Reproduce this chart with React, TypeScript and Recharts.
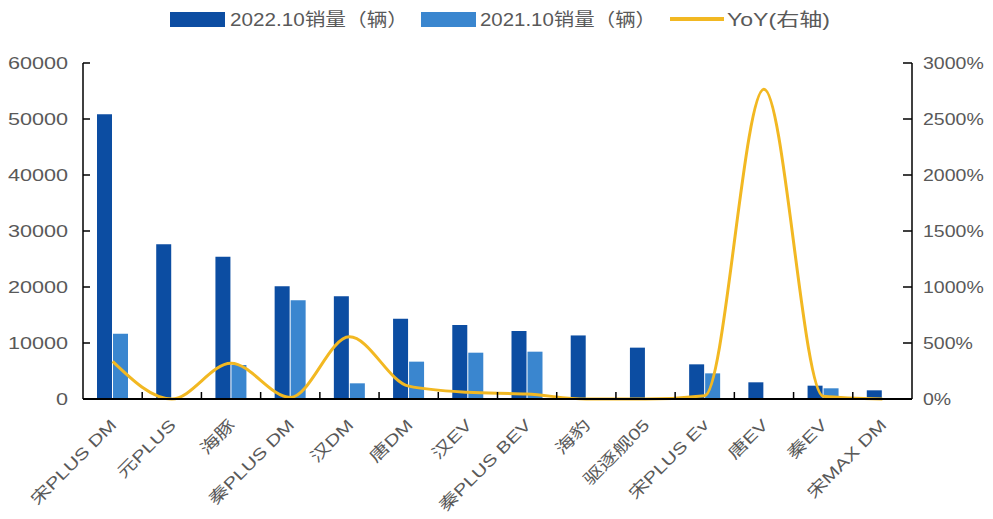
import React from "react";
import { ComposedChart, Bar, Line, XAxis, YAxis, Legend } from "recharts";

const categories = ["宋PLUS DM", "元PLUS", "海豚", "秦PLUS DM", "汉DM", "唐DM", "汉EV", "秦PLUS BEV", "海豹", "驱逐舰05", "宋PLUS Ev", "唐EV", "秦EV", "宋MAX DM"];
const sales2022 = [50840, 27620, 25410, 20120, 18330, 14340, 13210, 12140, 11350, 9170, 6190, 2980, 2380, 1550];
const sales2021 = [11660, 0, 6070, 17620, 2800, 6670, 8270, 8450, 0, 0, 4580, 108, 1910, 0];
const yoy = [336, 0, 319, 14, 555, 115, 60, 44, 0, 0, 30, 2765, 25, 0];
const leftTicks = [0, 10000, 20000, 30000, 40000, 50000, 60000];
const rightTicks = [0, 500, 1000, 1500, 2000, 2500, 3000];

const data = categories.map((name, i) => ({
  name,
  s2022: sales2022[i],
  s2021: sales2021[i],
  yoy: yoy[i],
}));

const W = 985;
const H = 511;
const LEFT_W = 75;
const RIGHT_W = 81;
const PLOT_W = W - LEFT_W - RIGHT_W;
const BAND = PLOT_W / categories.length;

const DARK = "#0C4DA2";
const LIGHT = "#3A86CF";
const GOLD = "#F2B822";
const TEXT = "#595959";
const LATIN = "'Liberation Sans', Arial, 'Noto Sans CJK SC', sans-serif";

const LeftTick = (props: any) => {
  const { x, y, payload } = props;
  return (
    <g>
      <line x1={x} x2={x + 7} y1={y} y2={y} stroke="#000" strokeWidth={1.5} />
      <g transform={`translate(${x - 15},${y + 6})`}>
        <text textAnchor="end" fontSize={16} fill={TEXT} fontFamily={LATIN} transform="scale(1.35,1)">
          {payload.value}
        </text>
      </g>
    </g>
  );
};

const RightTick = (props: any) => {
  const { x, y, payload } = props;
  return (
    <g>
      <line x1={x - 9} x2={x} y1={y} y2={y} stroke="#000" strokeWidth={1.5} />
      <g transform={`translate(${x + 11},${y + 6})`}>
        <text textAnchor="start" fontSize={16} fill={TEXT} fontFamily={LATIN} transform="scale(1.22,1)">
          {payload.value + "%"}
        </text>
      </g>
    </g>
  );
};

const BottomTick = (props: any) => {
  const { x, y, payload, index } = props;
  return (
    <g>
      {index > 0 && (
        <line x1={x - BAND / 2} x2={x - BAND / 2} y1={y - 7} y2={y} stroke="#000" strokeWidth={1.5} />
      )}
      <g transform={`translate(${x + 5},${y + 27}) rotate(-45)`}>
        <text textAnchor="end" fontSize={16} fill={TEXT} fontFamily={LATIN} transform="scale(1.3,1)">
          {payload.value}
        </text>
      </g>
    </g>
  );
};

const LegendContent = () => (
  <svg width={W} height={36} style={{ display: "block" }}>
    <rect x={162} y={4} width={55} height={15} fill={DARK} />
    <text x={222} y={18} fontSize={18} fill={TEXT} fontFamily={LATIN} textLength={178} lengthAdjust="spacingAndGlyphs">
      2022.10销量（辆）
    </text>
    <rect x={413} y={4} width={55} height={15} fill={LIGHT} />
    <text x={472} y={18} fontSize={18} fill={TEXT} fontFamily={LATIN} textLength={176} lengthAdjust="spacingAndGlyphs">
      2021.10销量（辆）
    </text>
    <line x1={662} x2={716} y1={11} y2={11} stroke={GOLD} strokeWidth={4} />
    <text x={719} y={18} fontSize={18} fill={TEXT} fontFamily={LATIN} textLength={103} lengthAdjust="spacingAndGlyphs">
      YoY(右轴)
    </text>
  </svg>
);

export default function App() {
  return (
    <ComposedChart
      width={W}
      height={H}
      data={data}
      margin={{ top: 55, right: 0, bottom: 0, left: 0 }}
      barGap={1}
      barSize={15}
    >
      <Legend
        layout="horizontal"
        verticalAlign="middle"
        align="center"
        content={<LegendContent />}
        wrapperStyle={{ top: 0, left: 0, width: W, height: 36 }}
      />
      <XAxis
        dataKey="name"
        interval={0}
        height={120}
        tickSize={0}
        tickMargin={0}
        tick={<BottomTick />}
        axisLine={{ stroke: "#000", strokeWidth: 2 }}
        tickLine={false}
      />
      <YAxis
        yAxisId="left"
        width={LEFT_W}
        domain={[0, 60000]}
        ticks={leftTicks}
        tickSize={0}
        tickMargin={0}
        tick={<LeftTick />}
        tickLine={false}
        axisLine={{ stroke: "#000", strokeWidth: 1.5 }}
        interval={0}
      />
      <YAxis
        yAxisId="right"
        orientation="right"
        width={RIGHT_W}
        domain={[0, 3000]}
        ticks={rightTicks}
        tickSize={0}
        tickMargin={0}
        tick={<RightTick />}
        tickLine={false}
        axisLine={{ stroke: "#000", strokeWidth: 1.5 }}
        interval={0}
      />
      <Bar yAxisId="left" dataKey="s2022" fill={DARK} isAnimationActive={false} />
      <Bar yAxisId="left" dataKey="s2021" fill={LIGHT} isAnimationActive={false} />
      <Line
        yAxisId="right"
        type="monotone"
        dataKey="yoy"
        stroke={GOLD}
        strokeWidth={3}
        dot={false}
        activeDot={false}
        isAnimationActive={false}
      />
    </ComposedChart>
  );
}
